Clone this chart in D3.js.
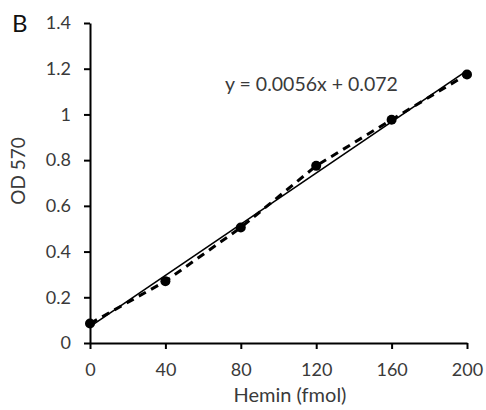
<!DOCTYPE html>
<head>
  <meta charset="utf-8">
  <title>hemin standard curve</title>
  <script src="https://d3js.org/d3.v7.min.js"></script>
</head>
<style>
body { margin: 0; background: #fff; }
text { font-family: "Lato", "Open Sans", sans-serif; fill: #3a3a3a; }
.axis path, .axis line { stroke: #000; stroke-width: 2px; }
</style>
<body>
<svg width="486" height="410"></svg>
<script>
// standard curve points
var hemin = [0, 40, 80, 120, 160, 200];
var od570 = [0.085, 0.27, 0.505, 0.775, 0.977, 1.175];
var xTicks = [0, 40, 80, 120, 160, 200];
var yTicks = [0, 0.2, 0.4, 0.6, 0.8, 1, 1.2, 1.4];
var slope = 0.0056, intercept = 0.072;

var svg = d3.select("svg"),
    margin = { top: 23, right: 19, bottom: 67, left: 90 },
    width = +svg.attr("width"),
    height = +svg.attr("height");

var x = d3.scaleLinear().domain([0, 200]).range([margin.left, width - margin.right]);
var y = d3.scaleLinear().domain([0, 1.4]).range([height - margin.bottom, margin.top]);

svg.append("g")
    .attr("class", "axis")
    .attr("transform", "translate(0," + y(0) + ")")
    .call(d3.axisBottom(x).tickValues(xTicks).tickSize(6).tickSizeOuter(0).tickPadding(14));
svg.append("g")
    .attr("class", "axis")
    .attr("transform", "translate(" + x(0) + ",0)")
    .call(d3.axisLeft(y).tickValues(yTicks).tickSize(6).tickSizeOuter(0).tickPadding(13)
      .tickFormat(function(d) { return String(+d.toFixed(1)); }));

svg.selectAll(".axis text").style("font-size", "18px").attr("fill", "#3a3a3a");

// dashed line through the points
var pts = hemin.map(function(h, i) { return [h, od570[i]]; });
svg.append("path")
    .datum(pts)
    .attr("fill", "none")
    .attr("stroke", "#000")
    .attr("stroke-width", 3)
    .attr("stroke-dasharray", "8,6")
    .attr("d", d3.line().x(function(d) { return x(d[0]); }).y(function(d) { return y(d[1]); }));

// linear fit
svg.append("line")
    .attr("x1", x(0)).attr("y1", y(intercept))
    .attr("x2", x(200)).attr("y2", y(slope * 200 + intercept))
    .attr("stroke", "#000")
    .attr("stroke-width", 1.6);

svg.selectAll("circle")
    .data(pts)
    .enter().append("circle")
      .attr("cx", function(d) { return x(d[0]); })
      .attr("cy", function(d) { return y(d[1]); })
      .attr("r", 5)
      .attr("fill", "#000");

svg.append("text")
    .attr("x", 225).attr("y", 91)
    .style("font-size", "19.5px")
    .text("y = 0.0056x + 0.072");

svg.append("text")
    .attr("x", 290).attr("y", 402)
    .attr("text-anchor", "middle")
    .style("font-size", "20px")
    .text("Hemin (fmol)");

svg.append("text")
    .attr("transform", "translate(25,171) rotate(-90)")
    .attr("text-anchor", "middle")
    .style("font-size", "19px")
    .text("OD 570");

svg.append("text")
    .attr("x", 12).attr("y", 32)
    .style("font-size", "24px")
    .style("fill", "#111")
    .text("B");
</script>
</body>
